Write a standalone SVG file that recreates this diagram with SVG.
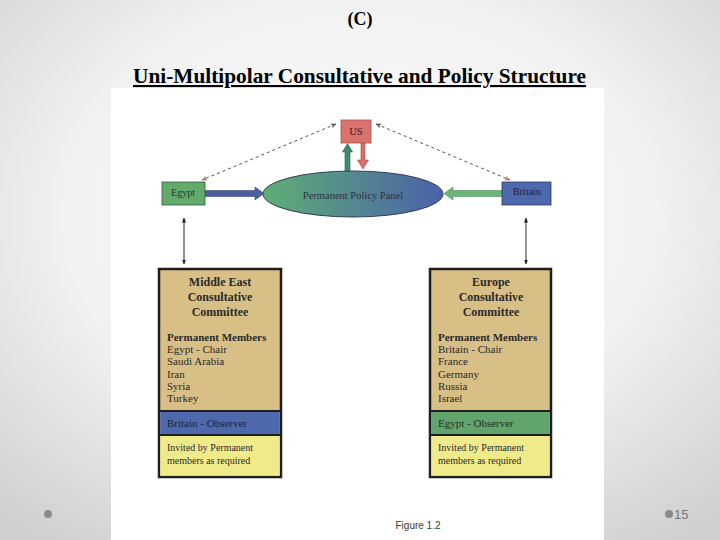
<svg xmlns="http://www.w3.org/2000/svg" width="720" height="540" viewBox="0 0 720 540">
<defs>
<radialGradient id="bg" cx="50%" cy="40%" r="75%">
<stop offset="0" stop-color="#fdfdfd"/><stop offset="0.55" stop-color="#f1f1f1"/><stop offset="1" stop-color="#cfcfcf"/>
</radialGradient>
<linearGradient id="ell" x1="0" y1="0" x2="1" y2="0">
<stop offset="0" stop-color="#5fae74"/><stop offset="1" stop-color="#4a62aa"/>
</linearGradient>
<marker id="dh" viewBox="0 0 10 10" refX="9" refY="5" markerWidth="6" markerHeight="6" orient="auto-start-reverse">
<path d="M0,1 L10,5 L0,9 L3,5 Z" fill="#555"/>
</marker>
<marker id="dhr" viewBox="0 0 10 10" refX="9" refY="5" markerWidth="6" markerHeight="6" orient="auto-start-reverse">
<path d="M0,1 L10,5 L0,9 L3,5 Z" fill="#c06a6a"/>
</marker>
<marker id="bh" viewBox="0 0 10 10" refX="9" refY="5" markerWidth="5" markerHeight="5" orient="auto-start-reverse">
<path d="M0,1 L10,5 L0,9 Z" fill="#222"/>
</marker>
<style>
.serif{font-family:"Liberation Serif","DejaVu Serif",serif;fill:#2a2a2a}
.hd{font-weight:bold;font-size:12px;text-anchor:middle}
.pm{font-weight:bold;font-size:11px}
.it{font-size:11px}
.sm{font-size:10px}
.box{stroke:#1e1e1e;stroke-width:2.5}
</style>
</defs>
<rect width="720" height="540" fill="url(#bg)"/>
<rect x="111" y="88" width="493" height="452" fill="#ffffff"/>
<text x="360" y="25" class="serif" font-size="18" font-weight="bold" text-anchor="middle" style="fill:#000">(C)</text>
<text x="133" y="83" class="serif" font-size="21" font-weight="bold" textLength="453" lengthAdjust="spacingAndGlyphs" text-decoration="underline" style="fill:#000">Uni-Multipolar Consultative and Policy Structure</text>

<g id="connectors">
<line x1="336" y1="124" x2="202" y2="180" stroke="#555" stroke-width="1" stroke-dasharray="3,3" marker-end="url(#dhr)" marker-start="url(#dh)"/>
<line x1="376" y1="124" x2="510" y2="180" stroke="#555" stroke-width="1" stroke-dasharray="3,3" marker-end="url(#dhr)" marker-start="url(#dh)"/>
<line x1="184" y1="218" x2="184" y2="264" stroke="#222" stroke-width="1" marker-start="url(#bh)" marker-end="url(#bh)"/>
<line x1="526" y1="218" x2="526" y2="264" stroke="#222" stroke-width="1" marker-start="url(#bh)" marker-end="url(#bh)"/>
<path d="M205,190.5 H255 V187 L264,193.5 L255,200 V196.5 H205 Z" fill="#4c5f9c" stroke="#3a4a80" stroke-width="0.6"/>
<path d="M502,190.5 H453 V187 L444,193.5 L453,200 V196.5 H502 Z" fill="#6db47a" stroke="#4f8f5c" stroke-width="0.6"/>
<path d="M345,172 V152 H342.5 L347.5,143.5 L352.5,152 H350 V172 Z" fill="#3f8a72" stroke="#2c5a50" stroke-width="0.6"/>
<path d="M361,143 V160 H357.5 L363,169 L368.5,160 H365 V143 Z" fill="#d6706a" stroke="#a04840" stroke-width="0.6"/>
</g>

<g id="us">
<rect x="341" y="120" width="30" height="23" fill="#d9736c" stroke="#a9504a" stroke-width="0.8"/>
<text x="356" y="135" class="serif" font-size="10.5" text-anchor="middle" style="fill:#3a2020">US</text>
</g>
<g id="panel">
<ellipse cx="353" cy="194" rx="90" ry="23" fill="url(#ell)" stroke="#2f3f55" stroke-width="1"/>
<text x="353" y="199" class="serif" font-size="10.5" text-anchor="middle" style="fill:#2a3340">Permanent Policy Panel</text>
</g>
<g id="egypt">
<rect x="162" y="182" width="43" height="23" fill="#62ab6c" stroke="#355a3a" stroke-width="0.8"/>
<text x="183" y="196" class="serif" font-size="10" text-anchor="middle" style="fill:#233">Egypt</text>
</g>
<g id="britain">
<rect x="502" y="182" width="49" height="23" fill="#4d68ac" stroke="#2a3a66" stroke-width="0.8"/>
<text x="527" y="195" class="serif" font-size="10" text-anchor="middle" style="fill:#1c2440">Britain</text>
</g>

<g id="middle-east">
<rect x="159" y="269" width="122" height="208" fill="#d8bf85" class="box"/>
<rect x="160.25" y="411" width="119.5" height="24" fill="#4d68ac"/>
<rect x="160.25" y="435" width="119.5" height="40.75" fill="#f0eb8a"/>
<line x1="159" y1="411" x2="281" y2="411" stroke="#1e1e1e" stroke-width="2"/>
<line x1="159" y1="435" x2="281" y2="435" stroke="#1e1e1e" stroke-width="2"/>
<text x="220" y="286" class="serif hd">Middle East</text>
<text x="220" y="301" class="serif hd">Consultative</text>
<text x="220" y="316" class="serif hd">Committee</text>
<text x="167" y="341" class="serif pm">Permanent Members</text>
<text x="167" y="353" class="serif it">Egypt - Chair</text>
<text x="167" y="365" class="serif it">Saudi Arabia</text>
<text x="167" y="377.5" class="serif it">Iran</text>
<text x="167" y="390" class="serif it">Syria</text>
<text x="167" y="402" class="serif it">Turkey</text>
<text x="167" y="427" class="serif it" style="fill:#1c2440">Britain - Observer</text>
<text x="167" y="450.5" class="serif sm">Invited by Permanent</text>
<text x="167" y="464" class="serif sm">members as required</text>
</g>

<g id="europe">
<rect x="430" y="269" width="121" height="208" fill="#d8bf85" class="box"/>
<rect x="431.25" y="411" width="118.5" height="24" fill="#62a56c"/>
<rect x="431.25" y="435" width="118.5" height="40.75" fill="#f0eb8a"/>
<line x1="430" y1="411" x2="551" y2="411" stroke="#1e1e1e" stroke-width="2"/>
<line x1="430" y1="435" x2="551" y2="435" stroke="#1e1e1e" stroke-width="2"/>
<text x="491" y="286" class="serif hd">Europe</text>
<text x="491" y="301" class="serif hd">Consultative</text>
<text x="491" y="316" class="serif hd">Committee</text>
<text x="438" y="341" class="serif pm">Permanent Members</text>
<text x="438" y="353" class="serif it">Britain - Chair</text>
<text x="438" y="365" class="serif it">France</text>
<text x="438" y="377.5" class="serif it">Germany</text>
<text x="438" y="390" class="serif it">Russia</text>
<text x="438" y="402" class="serif it">Israel</text>
<text x="438" y="427" class="serif it" style="fill:#1f3322">Egypt - Observer</text>
<text x="438" y="450.5" class="serif sm">Invited by Permanent</text>
<text x="438" y="464" class="serif sm">members as required</text>
</g>

<text x="418" y="529" font-family="Liberation Sans Narrow, Liberation Sans, sans-serif" font-size="10" text-anchor="middle" fill="#3a3a3a">Figure 1.2</text>
<circle cx="48" cy="514" r="4" fill="#8a8a8a"/>
<circle cx="669" cy="514" r="4" fill="#8a8a8a"/>
<text x="674" y="519" font-family="Liberation Sans, sans-serif" font-size="13" fill="#777">15</text>
</svg>
